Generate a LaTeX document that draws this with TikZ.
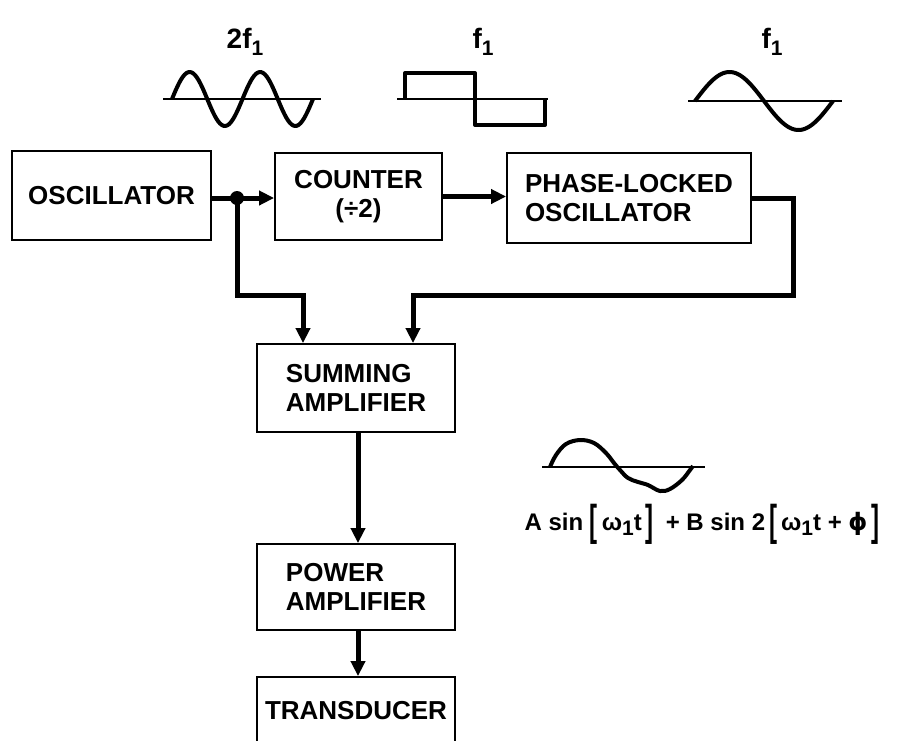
\documentclass[tikz,border=0pt]{standalone}
\usepackage{fontspec}
\setmainfont{Liberation Sans}
\newfontfamily\symfont{DejaVu Sans}
\usetikzlibrary{arrows.meta}
\tikzset{
  block/.style={draw,line width=1.8pt,inner sep=0pt,font=\bfseries\fontsize{26}{29}\selectfont},
  wire/.style={line width=5pt},
  wave/.style={line width=4pt,line join=round},
  axisline/.style={line width=2.5pt},
  tag/.style={font=\bfseries\fontsize{28}{30}\selectfont}
}
\newcommand{\subone}{\raisebox{-0.45ex}{\fontsize{21}{22}\selectfont 1}}
\newcommand{\lbrk}{\raisebox{-0.4ex}{\scalebox{1}[1.8]{[}}}
\newcommand{\rbrk}{\raisebox{-0.4ex}{\scalebox{1}[1.8]{]}}}
\begin{document}
\begin{tikzpicture}[x=1pt,y=-1pt,>={Triangle[length=15pt,width=14pt]}]
\useasboundingbox (0,0) rectangle (901,740);
\clip (0,0) rectangle (901,740);
% blocks
\node[block,minimum width=199pt,minimum height=89pt] (osc) at (111.5,195.5) {OSCILLATOR};
\node[block,minimum width=167pt,minimum height=87pt,align=center] (cnt) at (358.5,196.5) {COUNTER\\(÷2)};
\node[block,minimum width=244pt,minimum height=90pt,align=left] (plo) at (629,198) {PHASE-LOCKED\\OSCILLATOR};
\node[block,minimum width=198pt,minimum height=88pt,align=left] (sum) at (356,388) {SUMMING\\AMPLIFIER};
\node[block,minimum width=198pt,minimum height=86pt,align=left] (pwr) at (356,587) {POWER\\AMPLIFIER};
\node[block,minimum width=198pt,minimum height=68pt] (trd) at (356,711) {TRANSDUCER};
% connections
\coordinate (split) at (237,198);
\draw[wire] (osc.east |- split) -- (split);
\draw[wire,->] (split) -- (split -| cnt.west);
\fill (split) circle (7);
\draw[wire,->] (split) -- (237,295) -| ([xshift=-53pt]sum.north);
\draw[wire,->] (cnt.east) -- (cnt.east -| plo.west);
\draw[wire,->] (plo.east) -| (793,295) -| ([xshift=57pt]sum.north);
\draw[wire,->] ([xshift=2pt]sum.south) -- ([xshift=2pt]pwr.north);
\draw[wire,->] ([xshift=2pt]pwr.south) -- ([xshift=2pt]trd.north);
% waveforms
\node[tag] (lbla) at (245,42) {2f\subone};
\draw[axisline] (163,99) -- (321,99);
\draw[wave] plot[domain=0:720,samples=80] ({172+\x/360*70.5},{99-27*sin(\x)});
\node[tag] (lblb) at (483,42) {f\subone};
\draw[axisline] (397,99) -- (548,99);
\draw[wave] (405,99) -- (405,73) -- (475,73) -- (475,125) -- (545,125) -- (545,99);
\node[tag] (lblc) at (772,42) {f\subone};
\draw[axisline] (688,101) -- (842,101);
\draw[wave] plot[domain=0:360,samples=80] ({695+\x/360*138},{101-29*sin(\x)});
% resulting signal
\draw[axisline] (542,467) -- (705,467);
\draw[wave] plot[smooth,tension=0.6] coordinates {(550,467) (556,455) (566,444) (580,440) (594,443) (606,453) (614,463) (620,470) (628,478) (638,482) (648,485) (660,491) (670,489) (682,480) (690,470) (693,466)};
\node[tag,anchor=west,font=\bfseries\fontsize{24}{26}\selectfont] (eqn) at (521,524)
  {A sin \lbrk\,ω\subone t\,\rbrk\enspace+ B sin 2\,\lbrk\,ω\subone t + {\symfont ϕ}\,\rbrk};
\end{tikzpicture}
\end{document}
